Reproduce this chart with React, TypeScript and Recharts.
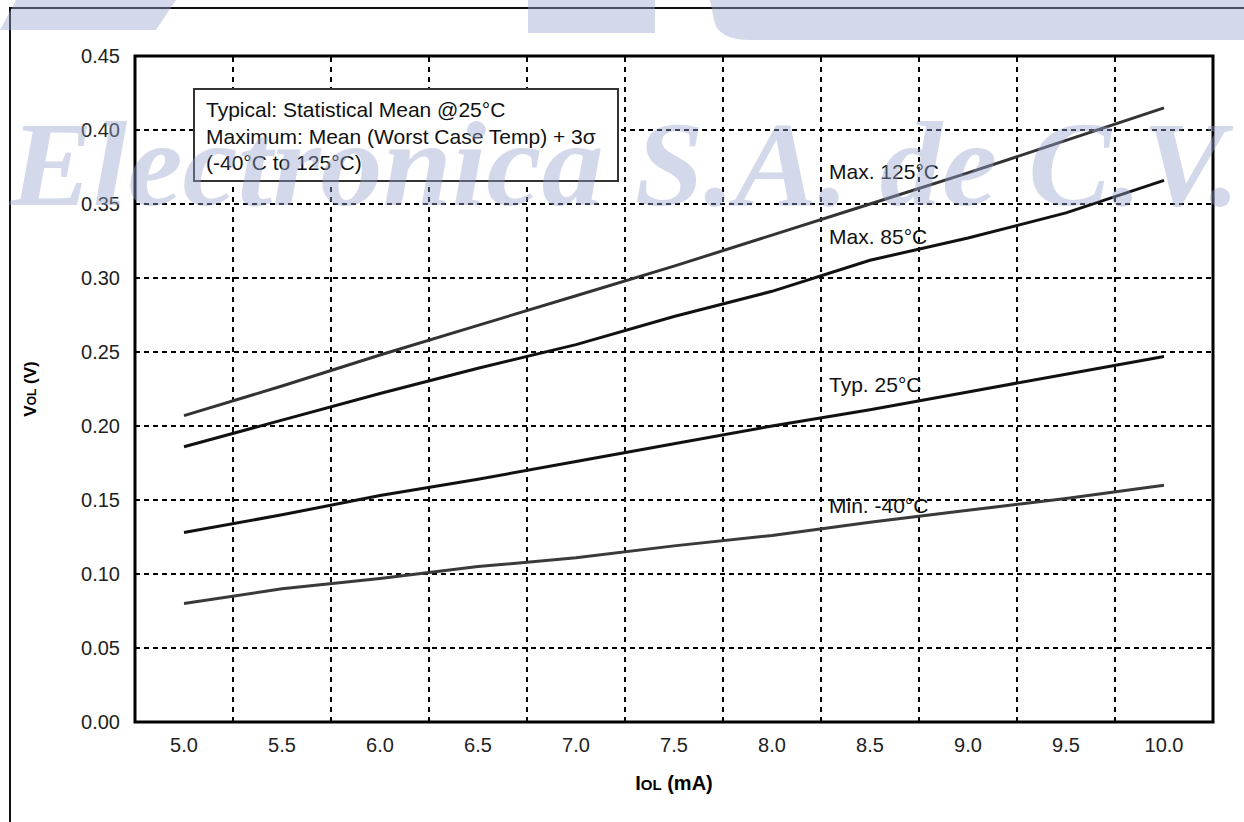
import {
  LineChart,
  Line,
  XAxis,
  YAxis,
  CartesianGrid,
  ReferenceLine,
  ReferenceArea,
  ReferenceDot,
} from "recharts";

// IOL (mA) categories
const currents = [5.0, 5.5, 6.0, 6.5, 7.0, 7.5, 8.0, 8.5, 9.0, 9.5, 10.0];

// VOL (V) per curve
const max125 = [0.207, 0.227, 0.248, 0.268, 0.288, 0.308, 0.329, 0.35, 0.371, 0.393, 0.415];
const max85 = [0.186, 0.204, 0.222, 0.239, 0.255, 0.274, 0.291, 0.312, 0.327, 0.344, 0.366];
const typ25 = [0.128, 0.14, 0.153, 0.164, 0.176, 0.188, 0.2, 0.211, 0.223, 0.235, 0.247];
const min40 = [0.08, 0.09, 0.097, 0.105, 0.111, 0.119, 0.126, 0.135, 0.143, 0.151, 0.16];

const yTicks = [0, 0.05, 0.1, 0.15, 0.2, 0.25, 0.3, 0.35, 0.4, 0.45];
const bandEdges = [5.25, 5.75, 6.25, 6.75, 7.25, 7.75, 8.25, 8.75, 9.25, 9.75];

const curveLabels = [
  { text: "Max. 125°C", x: 8.25, y: 0.3716 },
  { text: "Max. 85°C", x: 8.25, y: 0.3277 },
  { text: "Typ. 25°C", x: 8.25, y: 0.2277 },
  { text: "Min. -40°C", x: 8.25, y: 0.146 },
];

const legendLines = [
  "Typical: Statistical Mean @25°C",
  "Maximum: Mean (Worst Case Temp) + 3σ",
  "(-40°C to 125°C)",
];

const series = [
  { key: "max125", color: "#333333" },
  { key: "max85", color: "#111111" },
  { key: "typ25", color: "#111111" },
  { key: "min40", color: "#3a3a3a" },
];

const data = currents.map((c, i) => ({
  iol: c,
  max125: max125[i],
  max85: max85[i],
  typ25: typ25[i],
  min40: min40[i],
}));

const FONT = '"Liberation Sans", Arial, sans-serif';

function YLabel(props: any) {
  const vb = props.viewBox || { x: 35, y: 56, width: 100, height: 666 };
  const cx = vb.x + 1;
  const cy = vb.y + vb.height / 2;
  return (
    <text
      x={cx}
      y={cy}
      transform={`rotate(-90 ${cx} ${cy})`}
      textAnchor="middle"
      fontWeight="bold"
      fontSize={17}
      fill="#000"
      fontFamily={FONT}
    >
      <tspan>V</tspan>
      <tspan fontSize={12}>OL</tspan>
      <tspan> (V)</tspan>
    </text>
  );
}

function XLabel(props: any) {
  const vb = props.viewBox || { x: 135, y: 722, width: 1078, height: 80 };
  return (
    <text
      x={vb.x + vb.width / 2}
      y={vb.y + 68}
      textAnchor="middle"
      fontWeight="bold"
      fontSize={20}
      fill="#000"
      fontFamily={FONT}
    >
      <tspan>I</tspan>
      <tspan fontSize={15}>OL</tspan>
      <tspan> (mA)</tspan>
    </text>
  );
}

export default function App() {
  return (
    <div style={{ position: "absolute", left: 0, top: 0, width: 1244, height: 822, background: "#fff" }}>
      {/* outer frame */}
      <div
        style={{
          position: "absolute",
          left: 9,
          top: 7,
          width: 1235,
          height: 815,
          borderTop: "2px solid #111",
          borderLeft: "2px solid #111",
        }}
      />
      <div style={{ position: "absolute", left: 0, top: 0 }}>
        <LineChart
          width={1244}
          height={822}
          data={data}
          margin={{ top: 56, right: 31, bottom: 20, left: 35 }}
        >
          <CartesianGrid vertical={false} stroke="#000" strokeWidth={2} strokeDasharray="5 4" />
          {bandEdges.map((e) => (
            <ReferenceLine key={e} x={e} stroke="#000" strokeWidth={2} strokeDasharray="5 5" />
          ))}
          <XAxis
            dataKey="iol"
            type="number"
            domain={[4.75, 10.25]}
            ticks={currents}
            tickFormatter={(v) => Number(v).toFixed(1)}
            axisLine={false}
            tickLine={false}
            tickSize={0}
            tickMargin={16}
            height={80}
            tick={{ fontSize: 20, fill: "#222", fontFamily: FONT }}
            label={{ content: XLabel }}
          />
          <YAxis
            type="number"
            domain={[0, 0.45]}
            ticks={yTicks}
            tickFormatter={(v) => Number(v).toFixed(2)}
            axisLine={false}
            tickLine={false}
            tickSize={0}
            tickMargin={15}
            width={100}
            tick={{ fontSize: 20, fill: "#222", fontFamily: FONT }}
            label={{ content: YLabel }}
          />
          <ReferenceArea x1={4.75} x2={10.25} y1={0} y2={0.45} fill="none" stroke="#000" strokeWidth={3} />
          {series.map((s) => (
            <Line
              key={s.key}
              dataKey={s.key}
              type="linear"
              stroke={s.color}
              strokeWidth={3}
              dot={false}
              activeDot={false}
              isAnimationActive={false}
            />
          ))}
          {curveLabels.map((l) => (
            <ReferenceDot
              key={l.text}
              x={l.x}
              y={l.y}
              r={0}
              fill="none"
              stroke="none"
              label={{ value: l.text, position: "right", offset: 8, fontSize: 21, fill: "#111", fontFamily: FONT }}
            />
          ))}
        </LineChart>
      </div>
      {/* note box */}
      <div
        style={{
          position: "absolute",
          left: 193,
          top: 88,
          width: 411,
          height: 83,
          border: "2px solid #333",
          background: "#fff",
          padding: "7px 0 0 11px",
          boxSizing: "content-box",
          fontFamily: FONT,
          fontSize: 21,
          lineHeight: "26.5px",
          color: "#111",
          whiteSpace: "nowrap",
        }}
      >
        {legendLines.map((t) => (
          <div key={t}>{t}</div>
        ))}
      </div>
      {/* watermark */}
      <svg
        width={1244}
        height={822}
        style={{ position: "absolute", left: 0, top: 0, pointerEvents: "none" }}
      >
        <g fill="rgb(150,165,205)" fillOpacity={0.42}>
          <polygon points="0,30 16,0 176,0 156,30" />
          <rect x={528} y={0} width={127} height={33} />
          <path d="M710,0 L1244,0 L1244,40 L750,40 Q718,40 714,20 Z" />
          <text
            x={10}
            y={205}
            textLength={1230}
            lengthAdjust="spacingAndGlyphs"
            fontFamily='"Liberation Serif", "DejaVu Serif", serif'
            fontStyle="italic"
            fontWeight="bold"
            fontSize={120}
          >
            Electronica S.A. de C.V.
          </text>
        </g>
      </svg>
    </div>
  );
}
